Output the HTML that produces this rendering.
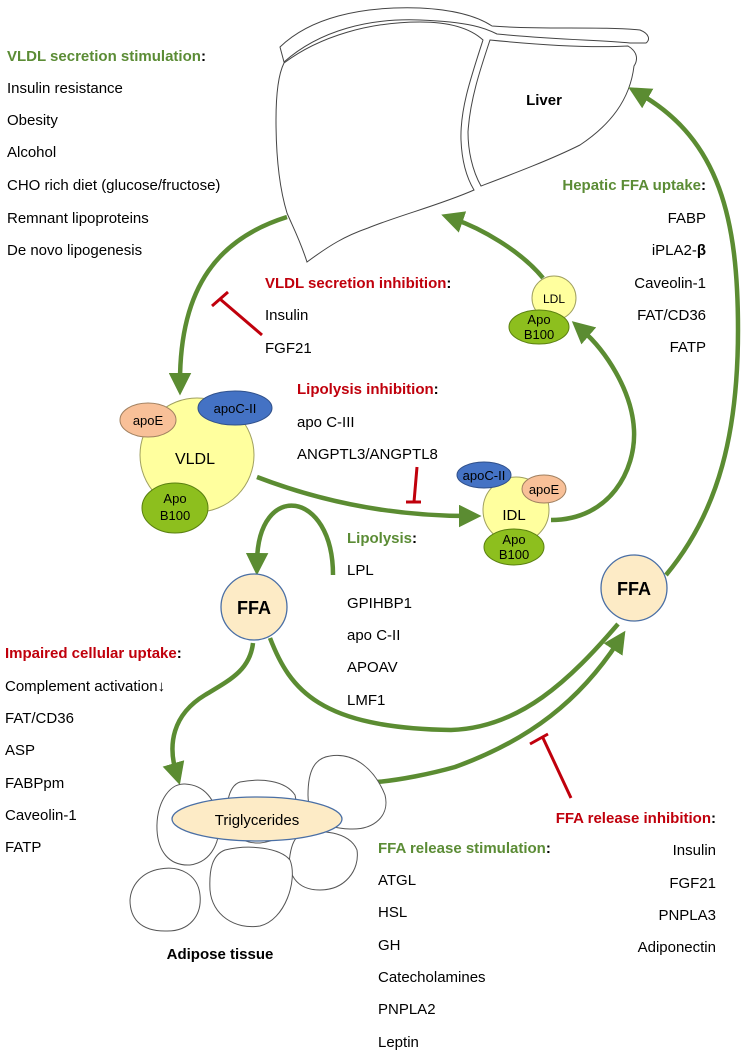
<!DOCTYPE html>
<html><head><meta charset="utf-8"><style>
html,body{margin:0;padding:0;background:#fff;}
svg{display:block;font-family:"Liberation Sans",Arial,sans-serif;}
.t{font-size:15px;fill:#000;}
.g{font-size:15px;font-weight:bold;fill:#5b8c35;}
.r{font-size:15px;font-weight:bold;fill:#c0000c;}
.k{fill:#000;font-weight:normal;}
.arr{fill:none;stroke:#5b8c32;stroke-width:4.5;}
.inh{fill:none;stroke:#c0000c;stroke-width:3;}
.cell{fill:#fff;stroke:#555;stroke-width:1;}
</style></head><body>
<svg width="751" height="1057" viewBox="0 0 751 1057" xmlns="http://www.w3.org/2000/svg">
<defs>
<marker id="ah" markerWidth="5" markerHeight="5" refX="2" refY="2.5" orient="auto" markerUnits="strokeWidth">
<path d="M0,0 L5,2.5 L0,5 Z" fill="#5b8c32"/></marker>
</defs>

<!-- Liver -->
<g fill="#fff" stroke="#444" stroke-width="1">
<path d="M280,47 C310,18 360,6 420,8 C460,10 480,18 492,26 C540,30 600,26 640,30 C650,34 650,40 646,43 L630,43 C600,40 560,40 497,34 C485,28 470,22 420,20 C370,18 320,30 284,62 Z"/>
<path d="M284,63 C320,36 370,22 420,22 C450,22 470,28 483,40 C470,80 460,110 461,140 C462,165 468,180 474,190 C440,205 400,215 368,228 C345,236 330,245 307,262 C300,240 292,225 287,213 C280,190 276,160 276,120 C276,95 278,75 284,63 Z"/>
<path d="M490,40 C540,45 590,48 628,46 C638,52 638,60 634,66 C630,100 610,125 580,145 C550,160 510,175 481,186 C472,170 468,150 468,132 C470,100 480,70 490,40 Z"/>
</g>
<text x="544" y="105" text-anchor="middle" style="font-size:15px;font-weight:bold">Liver</text>

<!-- Left text -->
<text x="7" y="61" class="g">VLDL secretion stimulation<tspan class="k" style="font-weight:bold">:</tspan></text>
<text x="7" y="93" class="t">Insulin resistance</text>
<text x="7" y="125" class="t">Obesity</text>
<text x="7" y="157" class="t">Alcohol</text>
<text x="7" y="190" class="t">CHO rich diet (glucose/fructose)</text>
<text x="7" y="223" class="t">Remnant lipoproteins</text>
<text x="7" y="255" class="t">De novo lipogenesis</text>

<!-- Hepatic FFA uptake -->
<text x="706" y="190" class="g" text-anchor="end">Hepatic FFA uptake<tspan class="k" style="font-weight:bold">:</tspan></text>
<text x="706" y="223" class="t" text-anchor="end">FABP</text>
<text x="706" y="255" class="t" text-anchor="end">iPLA2-<tspan font-weight="bold">β</tspan></text>
<text x="706" y="288" class="t" text-anchor="end">Caveolin-1</text>
<text x="706" y="320" class="t" text-anchor="end">FAT/CD36</text>
<text x="706" y="352" class="t" text-anchor="end">FATP</text>

<!-- VLDL secretion inhibition -->
<text x="265" y="288" class="r">VLDL secretion inhibition<tspan class="k" style="font-weight:bold">:</tspan></text>
<text x="265" y="320" class="t">Insulin</text>
<text x="265" y="353" class="t">FGF21</text>
<path class="inh" d="M262,335 L220,299 M212,306 L228,292"/>

<!-- Lipolysis inhibition -->
<text x="297" y="394" class="r">Lipolysis inhibition<tspan class="k" style="font-weight:bold">:</tspan></text>
<text x="297" y="427" class="t">apo C-III</text>
<text x="297" y="459" class="t">ANGPTL3/ANGPTL8</text>
<path class="inh" d="M417,467 L414,502 M406,502 L421,502"/>

<!-- Lipolysis -->
<text x="347" y="543" class="g">Lipolysis<tspan class="k" style="font-weight:bold">:</tspan></text>
<text x="347" y="575" class="t">LPL</text>
<text x="347" y="608" class="t">GPIHBP1</text>
<text x="347" y="640" class="t">apo C-II</text>
<text x="347" y="672" class="t">APOAV</text>
<text x="347" y="705" class="t">LMF1</text>

<!-- Impaired uptake -->
<text x="5" y="658" class="r">Impaired cellular uptake<tspan class="k" style="font-weight:bold">:</tspan></text>
<text x="5" y="691" class="t">Complement activation↓</text>
<text x="5" y="723" class="t">FAT/CD36</text>
<text x="5" y="755" class="t">ASP</text>
<text x="5" y="788" class="t">FABPpm</text>
<text x="5" y="820" class="t">Caveolin-1</text>
<text x="5" y="852" class="t">FATP</text>

<!-- FFA release -->
<text x="716" y="823" class="r" text-anchor="end">FFA release inhibition<tspan class="k" style="font-weight:bold">:</tspan></text>
<text x="716" y="855" class="t" text-anchor="end">Insulin</text>
<text x="716" y="888" class="t" text-anchor="end">FGF21</text>
<text x="716" y="920" class="t" text-anchor="end">PNPLA3</text>
<text x="716" y="952" class="t" text-anchor="end">Adiponectin</text>
<path class="inh" d="M571,798 L543,738 M530,744 L548,734"/>

<text x="378" y="853" class="g">FFA release stimulation<tspan class="k" style="font-weight:bold">:</tspan></text>
<text x="378" y="885" class="t">ATGL</text>
<text x="378" y="917" class="t">HSL</text>
<text x="378" y="950" class="t">GH</text>
<text x="378" y="982" class="t">Catecholamines</text>
<text x="378" y="1014" class="t">PNPLA2</text>
<text x="378" y="1047" class="t">Leptin</text>

<!-- Arrows -->
<path class="arr" marker-end="url(#ah)" d="M287,217 C220,238 180,285 180,382"/>
<path class="arr" marker-end="url(#ah)" d="M257,477 C330,505 400,516 468,516"/>
<path class="arr" marker-end="url(#ah)" d="M551,520 C610,520 636,470 634,430 C632,390 605,350 582,330"/>
<path class="arr" marker-end="url(#ah)" d="M543,278 C520,250 480,228 454,219"/>
<path class="arr" marker-end="url(#ah)" d="M666,575 C720,510 738,430 738,330 C738,220 720,140 640,94"/>
<path class="arr" marker-end="url(#ah)" d="M333,575 C333,490 258,480 257,562"/>
<path class="arr" marker-end="url(#ah)" d="M253,643 C250,670 230,680 205,695 C172,715 168,745 176,772"/>
<path class="arr" d="M270,638 C290,690 320,728 451,730 C520,728 570,680 618,624"/>
<path class="arr" marker-end="url(#ah)" d="M377,782 C400,780 430,774 455,767 C530,740 580,700 618,642"/>

<!-- Adipose cells -->
<path class="cell" d="M185,784 C205,785 215,800 218,818 C222,840 212,862 190,865 C168,866 158,850 157,830 C156,805 168,783 185,784 Z"/>
<path class="cell" d="M240,782 C260,778 285,780 295,795 C300,815 290,840 260,843 C235,844 225,825 228,800 C230,790 234,784 240,782 Z"/>
<path class="cell" d="M330,756 C355,752 375,770 385,795 C390,815 375,830 350,829 C320,828 308,815 308,795 C308,770 315,758 330,756 Z"/>
<path class="cell" d="M300,835 C320,828 350,832 357,850 C360,870 345,890 320,890 C295,890 287,872 290,855 C292,843 295,838 300,835 Z"/>
<path class="cell" d="M225,850 C250,844 280,848 290,860 C298,880 285,920 260,926 C235,930 212,915 210,890 C209,870 212,855 225,850 Z"/>
<path class="cell" d="M160,869 C180,865 198,875 200,895 C202,915 190,932 165,931 C140,931 130,918 130,900 C131,885 142,872 160,869 Z"/>
<ellipse cx="257" cy="819" rx="85" ry="22" fill="#fdebc6" stroke="#4a6fa5" stroke-width="1.3"/>
<text x="257" y="825" text-anchor="middle" style="font-size:15px">Triglycerides</text>
<text x="220" y="959" text-anchor="middle" style="font-size:15px;font-weight:bold">Adipose tissue</text>

<!-- FFA circles -->
<circle cx="254" cy="607" r="33" fill="#fdebc6" stroke="#4a6fa5" stroke-width="1.3"/>
<text x="254" y="614" text-anchor="middle" style="font-size:18px;font-weight:bold">FFA</text>
<circle cx="634" cy="588" r="33" fill="#fdebc6" stroke="#4a6fa5" stroke-width="1.3"/>
<text x="634" y="595" text-anchor="middle" style="font-size:18px;font-weight:bold">FFA</text>

<!-- VLDL -->
<circle cx="197" cy="455" r="57" fill="#ffff9e" stroke="#a0a060" stroke-width="1"/>
<ellipse cx="148" cy="420" rx="28" ry="17" fill="#f8c098" stroke="#a08060"/>
<text x="148" y="425" text-anchor="middle" style="font-size:13px">apoE</text>
<ellipse cx="235" cy="408" rx="37" ry="17" fill="#4472c4" stroke="#30508a"/>
<text x="235" y="413" text-anchor="middle" style="font-size:13px">apoC-II</text>
<text x="195" y="464" text-anchor="middle" style="font-size:16px">VLDL</text>
<ellipse cx="175" cy="508" rx="33" ry="25" fill="#8dbf1e" stroke="#5a8010"/>
<text x="175" y="503" text-anchor="middle" style="font-size:13px">Apo</text>
<text x="175" y="520" text-anchor="middle" style="font-size:13px">B100</text>

<!-- IDL -->
<circle cx="516" cy="510" r="33" fill="#ffff9e" stroke="#a0a060"/>
<ellipse cx="484" cy="475" rx="27" ry="13" fill="#4472c4" stroke="#30508a"/>
<text x="484" y="480" text-anchor="middle" style="font-size:13px">apoC-II</text>
<ellipse cx="544" cy="489" rx="22" ry="14" fill="#f8c098" stroke="#a08060"/>
<text x="544" y="494" text-anchor="middle" style="font-size:13px">apoE</text>
<text x="514" y="520" text-anchor="middle" style="font-size:15px">IDL</text>
<ellipse cx="514" cy="547" rx="30" ry="18" fill="#8dbf1e" stroke="#5a8010"/>
<text x="514" y="544" text-anchor="middle" style="font-size:13px">Apo</text>
<text x="514" y="559" text-anchor="middle" style="font-size:13px">B100</text>

<!-- LDL -->
<circle cx="554" cy="298" r="22" fill="#ffff9e" stroke="#a0a060"/>
<text x="554" y="303" text-anchor="middle" style="font-size:12px">LDL</text>
<ellipse cx="539" cy="327" rx="30" ry="17" fill="#8dbf1e" stroke="#5a8010"/>
<text x="539" y="324" text-anchor="middle" style="font-size:13px">Apo</text>
<text x="539" y="339" text-anchor="middle" style="font-size:13px">B100</text>
</svg>
</body></html>
